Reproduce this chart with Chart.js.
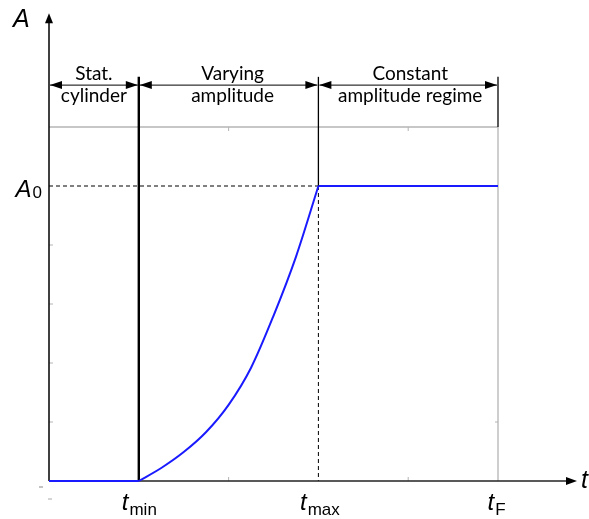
<!DOCTYPE html>
<html>
<head>
<meta charset="utf-8">
<script src="https://cdn.jsdelivr.net/npm/chart.js@4/dist/chart.umd.min.js"></script>
<style>
  html, body { margin: 0; padding: 0; background: #fff; }
  #wrap { position: relative; width: 589px; height: 519px; }
</style>
</head>
<body>
<div id="wrap"><canvas id="c"></canvas></div>
<script>
// ---- data ----
const regimeBounds = [0, 1, 3, 5];                 // t at regime boundaries (0, t_min, t_max, t_F)
const regimeLabels = [["Stat.", "cylinder"], ["Varying", "amplitude"], ["Constant", "amplitude regime"]];
const stationaryT = [0, 1];
const stationaryA = [0, 0];
const varyingT = [1, 1.25, 1.5, 1.75, 2, 2.25, 2.5, 2.75, 3];
const varyingA = [0, 0.22, 0.49, 0.83, 1.29, 1.92, 2.80, 3.80, 5];
const constantT = [3, 5];
const constantA = [5, 5];
const A0 = 5;
const yTickValues = [1, 2, 3, 4];
const xTickValues = [2, 4];
const xTickLabels = [["t", "min", 1, 0], ["t", "max", 3, 1], ["t", "F", 5, -2]];
const yFrameTop = 6;      // grey frame top
const yAxisEnd = 7.93;    // end of vertical axis arrow
const xAxisEnd = 5.88;    // end of horizontal axis arrow

const toPts = (xs, ys) => xs.map((x, i) => ({ x: x, y: ys[i] }));

const blue = "#1a1aff";
const grey = "#b4b4b4";

function arrowHead(ctx, x, y, dir, len, half) {
  ctx.beginPath();
  if (dir === "right") { ctx.moveTo(x, y); ctx.lineTo(x - len, y - half); ctx.lineTo(x - len, y + half); }
  else if (dir === "left") { ctx.moveTo(x, y); ctx.lineTo(x + len, y - half); ctx.lineTo(x + len, y + half); }
  else if (dir === "up") { ctx.moveTo(x, y); ctx.lineTo(x - half, y + len); ctx.lineTo(x + half, y + len); }
  ctx.closePath();
  ctx.fill();
}
function line(ctx, x1, y1, x2, y2, color, w, dash) {
  ctx.save();
  ctx.beginPath();
  ctx.strokeStyle = color; ctx.lineWidth = w;
  ctx.setLineDash(dash || []);
  ctx.moveTo(x1, y1); ctx.lineTo(x2, y2);
  ctx.stroke();
  ctx.restore();
}
function subLabel(ctx, main, sub, cx, base, mainFont, subFont, drop, align) {
  ctx.save();
  ctx.fillStyle = "#000";
  ctx.textBaseline = "alphabetic";
  ctx.font = mainFont; const w1 = ctx.measureText(main).width;
  ctx.font = subFont; const w2 = ctx.measureText(sub).width;
  let x0 = cx - (w1 + w2) / 2;
  if (align === "right") x0 = cx - (w1 + w2);
  ctx.textAlign = "left";
  ctx.font = mainFont; ctx.fillText(main, x0, base);
  ctx.font = subFont; ctx.fillText(sub, x0 + w1 + 1, base + drop);
  ctx.restore();
}

const diagram = {
  id: "diagram",
  beforeDatasetsDraw(chart) {
    const ctx = chart.ctx, xs = chart.scales.x, ys = chart.scales.y;
    const X = v => xs.getPixelForValue(v), Y = v => ys.getPixelForValue(v);
    const x0 = X(0), y0 = Y(0);
    const xMin = X(regimeBounds[1]), xMax = X(regimeBounds[2]), xF = X(regimeBounds[3]);
    const yTop = Y(yFrameTop), yA0 = Y(A0);
    const yBracketTop = Y(6.85), yArrow = Y(6.71);

    // grey frame (top and right)
    line(ctx, x0, yTop, xF, yTop, grey, 1.3);
    line(ctx, xF, yTop, xF, y0, grey, 1.3);
    // minor ticks
    xTickValues.forEach(v => {
      line(ctx, X(v), y0, X(v), y0 - 4, grey, 1);
      line(ctx, X(v), yTop, X(v), yTop + 4, grey, 1);
    });
    yTickValues.forEach(v => line(ctx, x0, Y(v), x0 + 4, Y(v), grey, 1));
    line(ctx, xF, Y(1), xF - 3, Y(1), grey, 1);
    // tiny dash marks below origin
    line(ctx, x0 - 10, y0 + 6, x0 - 6, y0 + 6, "#888", 1);
    line(ctx, x0 - 1, y0 + 18, x0 + 3, y0 + 18, "#aaa", 1);

    // dashed A0 guide and t_max guide
    line(ctx, x0, yA0, xMax, yA0, "#000", 1, [4, 3]);
    line(ctx, xMax, yA0, xMax, y0, "#000", 1, [4, 3]);

    // vertical regime separators
    line(ctx, xMin, yBracketTop, xMin, y0, "#000", 2.4);
    line(ctx, xMax, yBracketTop, xMax, yA0, "#000", 1.3);
    line(ctx, xF, yBracketTop, xF, yTop, "#000", 1.3);

    // double arrows
    ctx.save();
    ctx.fillStyle = "#000";
    for (let i = 0; i < 3; i++) {
      const a = X(regimeBounds[i]) + 1, b = X(regimeBounds[i + 1]) - 1;
      line(ctx, a, yArrow, b, yArrow, "#000", 1);
      arrowHead(ctx, a, yArrow, "left", 12, 4);
      arrowHead(ctx, b, yArrow, "right", 12, 4);
    }
    ctx.restore();

    // axes with arrows
    const yEnd = Y(yAxisEnd), xEnd = X(xAxisEnd);
    line(ctx, x0, y0, x0, yEnd + 8, "#000", 1.5);
    line(ctx, x0, y0, xEnd - 8, y0, "#222", 1.5);
    ctx.save(); ctx.fillStyle = "#000";
    arrowHead(ctx, x0, yEnd, "up", 10, 4);
    arrowHead(ctx, xEnd, y0, "right", 11, 4);
    ctx.restore();
  },
  afterDraw(chart) {
    const ctx = chart.ctx, xs = chart.scales.x, ys = chart.scales.y;
    const X = v => xs.getPixelForValue(v), Y = v => ys.getPixelForValue(v);
    const x0 = X(0), y0 = Y(0);

    // regime labels
    ctx.save();
    ctx.fillStyle = "#000";
    ctx.textAlign = "center";
    ctx.textBaseline = "alphabetic";
    ctx.font = '19px Lato';
    const offsets = [0, 4, 2];
    regimeLabels.forEach((lbl, i) => {
      const cx = (X(regimeBounds[i]) + X(regimeBounds[i + 1])) / 2 + offsets[i];
      ctx.fillText(lbl[0], cx, Y(6.8));
      ctx.fillText(lbl[1], cx, Y(6.42));
    });
    ctx.restore();

    // axis titles
    ctx.save();
    ctx.fillStyle = "#000";
    ctx.font = 'italic 25px "Liberation Sans"';
    ctx.textAlign = "left";
    ctx.fillText("A", x0 - 36, Y(yAxisEnd) + 14);
    ctx.fillText("t", X(xAxisEnd) + 4, y0 + 7);
    ctx.restore();

    // A0 label
    subLabel(ctx, "A", "0", x0 - 8, Y(A0) + 11, 'italic 24px "Liberation Sans"', '17px "Liberation Sans"', 1, "right");

    // t labels
    xTickLabels.forEach(([m, s, v, dx]) => {
      subLabel(ctx, m, s, X(v) + dx, y0 + 29, 'italic 24px "Liberation Sans"', '17px "Liberation Sans"', 5);
    });
  }
};

new Chart(document.getElementById("c"), {
  type: "line",
  data: {
    datasets: [
      { label: "Stationary cylinder", data: toPts(stationaryT, stationaryA), borderColor: blue, borderWidth: 2, pointRadius: 0, tension: 0, clip: false },
      { label: "Varying amplitude", data: toPts(varyingT, varyingA), borderColor: blue, borderWidth: 2, pointRadius: 0, tension: 0.4, cubicInterpolationMode: "monotone", clip: false },
      { label: "Constant amplitude regime", data: toPts(constantT, constantA), borderColor: blue, borderWidth: 2, pointRadius: 0, tension: 0, clip: false }
    ]
  },
  options: {
    responsive: true,
    maintainAspectRatio: false,
    animation: false,
    layout: { padding: { left: 49, right: 91, top: 127, bottom: 38 } },
    plugins: { legend: { display: false }, tooltip: { enabled: false } },
    scales: {
      x: { type: "linear", min: 0, max: 5, display: false },
      y: { type: "linear", min: 0, max: 6, display: false }
    }
  },
  plugins: [diagram]
});
</script>
</body>
</html>
